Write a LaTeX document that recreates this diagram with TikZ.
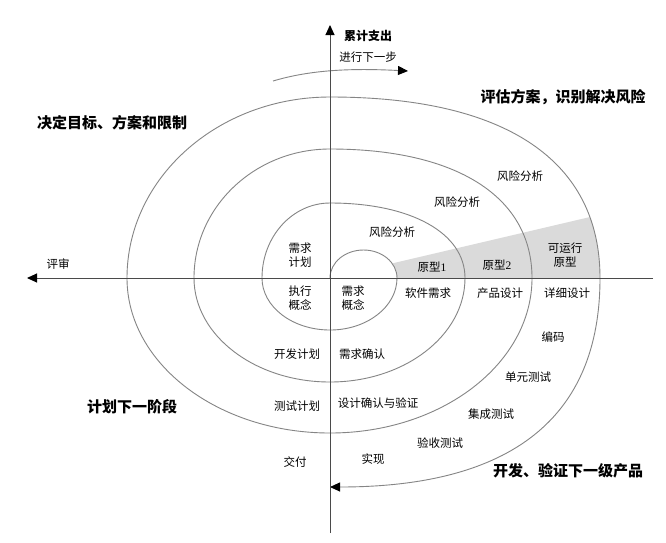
\documentclass[tikz,border=0pt]{standalone}
\usepackage{fontspec}
\setmainfont{Noto Sans CJK SC}
\newfontfamily\digitfont{Liberation Serif}
\usetikzlibrary{arrows.meta}
\definecolor{axiscol}{HTML}{4A4A4A}
\definecolor{spiralcol}{HTML}{858585}
\definecolor{wedgecol}{HTML}{DADADA}
\tikzset{
  lbl/.style={inner sep=0pt, align=center, font=\fontsize{11.5}{14}\selectfont},
  ttl/.style={inner sep=0pt, font=\fontsize{15}{18}\selectfont\bfseries},
  axisline/.style={draw=axiscol, line width=1pt},
  spiral/.style={draw=spiralcol, line width=0.9pt},
  tipstyle/.style={-{Triangle[length=10pt,width=9pt]}}
}
\begin{document}
\begin{tikzpicture}[x=1pt,y=-1pt]
\useasboundingbox (0,0) rectangle (666,542);
\fill[white] (0,0) rectangle (666,542);
% key points
\coordinate (O) at (330,278);
\coordinate (vtop) at (330,25);
\coordinate (vbot) at (330,533);
\coordinate (hleft) at (27,278);
\coordinate (hright) at (653,278);
% gray wedge
\begin{scope}
  \clip (O) -- (330,97) .. controls (505.5,97) and (600,160.3) .. (600,278) -- cycle;
  \fill[wedgecol] (O) -- (640,205.3) -- (640,278) -- cycle;
\end{scope}
\fill[white] (330,278) .. controls (330,262.5) and (345,250) .. (363.5,250)
   .. controls (382,250) and (397,262.5) .. (397,278) -- cycle;
% spiral
\draw[spiral]
  (330,278) .. controls (330,262.5) and (345,250) .. (363.5,250)
  .. controls (382,250) and (397,262.5) .. (397,278)
  .. controls (397,306.7) and (367,330) .. (330,330)
  .. controls (292.4,330) and (262,306.7) .. (262,278)
  .. controls (262,236.6) and (292.4,203) .. (330,203)
  .. controls (411,203) and (465,233) .. (465,278)
  .. controls (465,335.4) and (404.6,382) .. (330,382)
  .. controls (254.9,382) and (194,335.4) .. (194,278)
  .. controls (194,206.8) and (254.9,149) .. (330,149)
  .. controls (457,149) and (532,197) .. (532,278)
  .. controls (532,363.6) and (441.6,433) .. (330,433)
  .. controls (217.9,433) and (127,363.6) .. (127,278)
  .. controls (127,178) and (217.9,97) .. (330,97)
  .. controls (505.5,97) and (600,160.3) .. (600,278);
\coordinate (sp) at (600,278);
\coordinate (bend) at (330,487);
\draw[spiral, tipstyle, -{Triangle[length=10pt,width=9pt,fill=black,color=black]}]
  (sp) .. controls (600,418) and (511,487) .. (bend);
% top arrow arc
\coordinate (ta) at (273,81);
\coordinate (tb) at (408,71);
\draw[spiral, -{Triangle[length=10pt,width=9pt,fill=black,color=black]}]
  (ta) .. controls (310,70) and (350,68) .. (tb);
% axes
\draw[axisline, -{Triangle[length=10pt,width=9pt,fill=black,color=black]}] (vbot) -- (vtop);
\draw[axisline, -{Triangle[length=10pt,width=9pt,fill=black,color=black]}] (hright) -- (hleft);
% titles
\node[inner sep=0pt, font=\fontsize{12}{14}\selectfont\bfseries] (t0) at (368,36) {累计支出};
\node[lbl] (t1) at (368,57) {进行下一步};
\node[ttl] (q1) at (563,97) {评估方案，识别解决风险};
\node[ttl] (q2) at (112,123) {决定目标、方案和限制};
\node[ttl] (q3) at (132,407) {计划下一阶段};
\node[ttl] (q4) at (568,471) {开发、验证下一级产品};
\node[lbl] (rev) at (58,264) {评审};
% labels
\node[lbl] (r1) at (520,176) {风险分析};
\node[lbl] (r2) at (457,202) {风险分析};
\node[lbl] (r3) at (392,232) {风险分析};
\node[lbl] (a1) at (300,255) {需求\\计划};
\node[lbl] (p1) at (432,267) {原型{\digitfont 1}};
\node[lbl] (p2) at (497,265) {原型{\digitfont 2}};
\node[lbl] (p3) at (565,255) {可运行\\原型};
\node[lbl] (b1) at (300,298) {执行\\概念};
\node[lbl] (b2) at (353,298) {需求\\概念};
\node[lbl] (b3) at (428,293) {软件需求};
\node[lbl] (b4) at (500,293) {产品设计};
\node[lbl] (b5) at (567,293) {详细设计};
\node[lbl] (c1) at (553,337) {编码};
\node[lbl] (c2) at (528,377) {单元测试};
\node[lbl] (c3) at (491,414) {集成测试};
\node[lbl] (c4) at (440,443) {验收测试};
\node[lbl] (c5) at (373,459) {实现};
\node[lbl] (c6) at (295,462) {交付};
\node[lbl] (d1) at (297,354) {开发计划};
\node[lbl] (d2) at (362,354) {需求确认};
\node[lbl] (d3) at (297,406) {测试计划};
\node[lbl] (d4) at (378,403) {设计确认与验证};
\end{tikzpicture}
\end{document}
